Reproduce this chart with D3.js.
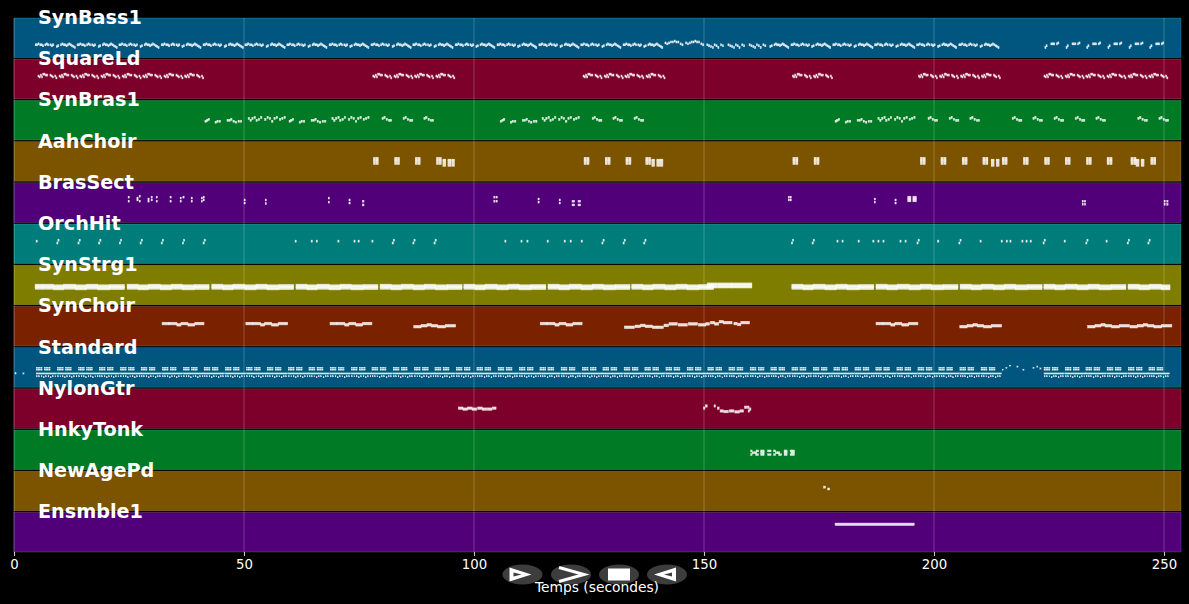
<!DOCTYPE html>
<html><head><meta charset="utf-8">
<script src="https://cdn.jsdelivr.net/npm/d3@7/dist/d3.min.js"></script>
<style>html,body{margin:0;padding:0;background:#000}svg{display:block}text{font-family:"DejaVu Sans",sans-serif;fill:#fff}</style>
</head><body><div id="chart"></div>
<script>
const trackNames = ["SynBass1","SquareLd","SynBras1","AahChoir","BrasSect","OrchHit","SynStrg1","SynChoir","Standard","NylonGtr","HnkyTonk","NewAgePd","Ensmble1"];
const trackColors = ["#01567f","#7c0029","#007a24","#7c5400","#52007a","#007d7a","#7f7d00","#7a2200","#01567f","#7c0029","#007a24","#7c5400","#52007a"];
const timeTicks = [0,50,100,150,200,250];
const timeMax = 253.7;

// Notes are [start seconds, duration seconds, MIDI pitch]; phrases are lists of start times.
const bassMotifA = [[0,.25,41],[.3,.25,41],[.6,.25,44],[1.0,.25,41],[1.3,.25,41],[1.6,.25,38],[2.1,.25,41],[2.4,.25,44],[2.7,.25,41],[3.2,.25,41],[3.5,.25,38],[3.8,.25,41]];
const bassMotifB = [[0,.25,35],[.3,.25,38],[.9,.25,41],[1.2,.25,44],[1.5,.25,41],[1.8,.25,41],[2.1,.25,38],[2.4,.25,41],[2.7,.25,44],[3.0,.25,41],[3.3,.25,38],[3.6,.25,35],[3.9,.25,32]];
const bassMotifC = [[0,.25,32],[.25,.25,38],[1.3,.25,44],[1.6,.25,44],[1.9,.25,44],[2.5,.25,44],[2.8,.25,47]];
const bassMotifRise = [[0,.25,47],[.4,.25,44],[.8,.25,47],[1.2,.25,50],[1.6,.25,50],[2.0,.25,53],[2.4,.25,50],[2.8,.25,50],[3.3,.25,44],[3.7,.25,41]];
const bassMotifDip = [[0,.25,41],[.4,.25,38],[.8,.25,35],[1.2,.25,32],[1.6,.25,41],[2,.25,38],[2.4,.25,32],[3,.25,41],[3.4,.25,38]];
const bassPhrasesA = [4.6,13.7,22.8,32,41.1,50.2,59.3,68.5,77.6,86.7,95.9,105,114.1,123.2,132.4,168.9,178,187.1,196.2,205.4];
const bassPhrasesB = [9.2,18.3,27.4,36.5,45.7,54.8,63.9,73,82.2,91.3,100.4,109.5,118.7,127.8,136.9,164.3,173.4,182.6,191.7,200.8,210];
const bassPhrasesC = [224.1,228.7,233.2,237.8,242.4,246.9];
const bassPhrasesRise = [141.5,146];
const bassPhrasesDip = [150.6,155.2,159.8];

const leadMotif = [[0,.24,73],[.26,.24,70],[.52,.24,76],[.78,.24,70],[1.04,.24,79],[1.3,.24,79],[1.6,.24,76],[1.9,.24,76],[2.6,.24,76],[2.86,.24,73],[3.12,.24,70],[3.65,.24,73],[3.9,.24,67]];
const leadPhrases = [5.2,9.8,14.3,18.9,23.5,28,32.6,37.1,78,82.6,87.1,91.7,123.7,128.3,132.8,137.4,169.2,173.8,196.6,201.2,205.8,210.3,223.9,228.5,233,237.6,242.2,246.7];

const brassMotifA = [[0,.3,60],[.35,.3,63],[.7,.3,66],[2.2,.3,57],[2.6,.3,60],[3.1,.3,60],[4.8,.3,63],[5.2,.3,63],[5.6,.3,66],[6.1,.3,60],[6.6,.3,57],[7.2,.3,60],[7.7,.3,60]];
const brassMotifB = [[0,.3,69],[.4,.3,63],[.8,.3,69],[1.3,.3,72],[1.7,.3,63],[2.2,.3,66],[2.7,.3,72],[3.6,.3,66],[4.1,.3,72],[4.6,.3,69],[5.1,.3,60],[5.6,.3,69],[6.1,.3,72],[6.8,.3,66],[7.3,.3,69],[7.8,.3,72]];
const brassMotifC = [[0,.3,69],[.4,.3,72],[.9,.3,66],[1.4,.3,63],[1.8,.3,63]];
const brassPhrasesA = [41.5,59.8,105.7,178.5];
const brassPhrasesB = [50.9,69.1,114.8,187.8];
const brassPhrasesC = [80,84.6,89.1,125.7,130.2,134.8,198.7,203.3,207.8,217,221.5,226.1,230.7,235.2,244.3,248.9];

const choirChord = [[0,.55,74],[.6,.55,74],[0,.55,68],[.6,.55,68],[0,.55,62],[.6,.55,62],[0,.55,56],[.6,.55,56]];
const choirChordLow = [[0,.7,68],[0,.7,62],[0,.7,56],[0,.7,50]];
const choirPhrases = [78.1,82.7,87.2,91.8,123.9,128.5,133,137.3,169.3,173.9,197,201.5,206.1,210.6,214.8,219.4,224,228.5,233.1,237.6,247.1,242.8];
const choirPhrasesLow = [93.2,94.3,95.1,138.6,139.7,140.4,212.4,213.5,243.9,245];

const sectNotes = [[24.8,.3,81],[24.8,.3,68],[26.7,.3,78],[26.7,.3,72],[27.2,.3,84],[27.2,.3,68],[29.1,.3,75],[29.1,.3,68],[29.8,.3,81],[29.8,.3,72],[30.9,.3,81],[30.9,.3,68],[33.9,.3,81],[33.9,.3,68],[36.1,.3,78],[36.1,.3,68],[36.7,.3,81],[38.5,.3,78],[38.5,.3,68],[40.7,.3,78],[40.7,.3,68],[41.1,.3,81],[41.1,.3,72],[50,.3,72],[50,.3,62],[54.6,.3,72],[54.6,.3,60],[68.3,.3,78],[68.3,.3,65],[72.8,.3,72],[72.8,.3,62],[75.7,.4,68],[75.7,.4,56],[104.3,.3,81],[104.3,.3,68],[104.8,.3,81],[104.8,.3,68],[113.9,.3,75],[113.9,.3,65],[118.5,.3,72],[118.5,.3,62],[121.3,.6,68],[121.3,.6,56],[122.6,.6,68],[122.6,.6,56],[168.3,.3,81],[168.3,.3,72],[168.7,.3,81],[168.7,.3,72],[187,.3,75],[187,.3,65],[191.5,.3,72],[191.5,.3,62],[194.3,.7,81],[194.3,.7,75],[194.3,.7,69],[195.4,.8,81],[195.4,.8,75],[195.4,.8,69],[232.2,.3,68],[232.2,.3,58],[232.7,.3,68],[232.7,.3,58],[250,.3,68],[250,.3,58],[250.6,.3,68],[250.6,.3,58]];

const hitSingles = [4.8,61.1,64.6,65.7,70.4,73.9,74.8,77.8,106.7,110.2,111.5,115.9,119.6,120.9,123.3,178.9,180,183.5,186.7,187.8,188.9,192.6,193.7,200.8,210,214.6,215.7,216.5,219.1,220,220.9,228.3,237.4];
const hitSlants = [9.3,13.9,18.4,22.9,27.4,32,36.6,41.1,82.2,86.7,91.3,127.8,132.4,136.9,169,173.5,196.3,205.4,223.7,233,242,246.5];

const strgMotif = [[0,2.4,58],[2.4,2.2,56],[4.6,2.6,58],[7.2,2.4,56],[9.6,2.4,58],[12,2.6,56],[14.6,3.2,57]];
const strgTail = [[0,2.4,58],[2.4,2.2,56],[4.6,2.6,58],[7.2,1.9,56]];
const strgPhrases = [6.2,24.6,43,61.3,79.6,97.8,116.1,134.3,169.1,187.4,205.7,223.9];
const strgTailPhrases = [242.2];
const strgExtra = [[4.6,1.6,58],[150.7,2.2,62],[153,3,62],[156,4.4,62]];
const strgChord = [5,0,-5];

const synChoirMotif = [[0,1.5,72],[1.5,1.7,72],[3.2,.9,68],[4.1,1.5,72],[5.6,1.5,68],[7.1,2,72]];
const synChoirLowMotif = [[0,1.6,62],[1.6,1.3,65],[2.9,.9,68],[3.8,1.4,65],[5.2,1.7,62],[6.9,2.2,65]];
const synChoirPhrases = [32.2,50.4,68.7,114.4,187.4];
const synChoirLowPhrases = [86.9,205.6,233.4,242.6];
const synChoirRise = [[132.7,2.2,60],[135,1.2,63],[136.2,1,66],[137.2,1.6,63],[138.8,1,60],[139.8,1.4,60],[141.3,1,66],[142.4,1.8,71],[144.4,2,68],[146.6,2,71],[148.8,1.6,68],[150.4,.8,71],[151.4,.9,75],[152.3,.9,71],[153.3,.9,78],[154.2,1.9,75],[156.5,.7,72],[157.3,.7,69],[158,1.9,75]];

const drumTopMotif = [[0,.3,62],[.35,.3,62],[.7,.3,62],[1.05,.3,62],[0,.3,56],[.35,.3,56],[.7,.3,56],[1.05,.3,56],[1.75,.3,62],[2.1,.3,62],[2.45,.3,62],[2.8,.3,62],[1.75,.3,56],[2.1,.3,56],[2.45,.3,56],[2.8,.3,56]];
const drumHatMotif = [[0,4.5,44]];
const drumLowMotif = [[.1,.15,35],[.6,.15,35],[1.1,.15,35],[1.6,.15,32],[2.1,.15,35],[2.6,.15,35],[3.1,.15,32],[3.6,.15,35],[4.1,.15,35]];
const drumPhrases = [4.8,9.4,14,18.5,23.1,27.6,32.2,36.8,41.3,45.9,50.5,55,59.6,64.1,68.7,73.3,77.8,82.4,87,91.5,96.1,100.6,105.2,109.8,114.3,118.9,123.5,128,132.6,137.1,141.7,146.3,150.8,155.4,160,164.5,169.1,173.7,178.2,182.8,187.3,191.9,196.5,201,205.6,210.2,223.9,228.5,233,237.6,242.2,246.7];
const drumLoose = [[.2,.3,44],[1.9,.3,44],[214.8,.3,56],[215.6,.3,62],[216.4,.3,69],[218,.3,66],[219.3,.3,56],[221.5,.3,62],[222.3,.3,66],[223,.3,60]];

const nylonNotes = [[96.6,1,65],[97.6,1,62],[98.6,1,65],[99.6,1,62],[100.8,1,65],[101.8,1,62],[102.9,1,62],[104,.8,65],[149.9,.3,65],[150.3,.4,72],[152.2,.3,72],[152.9,.4,65],[153.5,.7,56],[154.3,1,54],[155.5,1,56],[156.7,1,53],[157.8,.8,56],[158.8,.5,68],[159.4,.4,68],[159.9,.3,62],[159.6,.3,56]];
const tonkNotes = [[160.1,.4,60],[160.1,.4,48],[160.4,.5,54],[160.9,.6,54],[161.2,.7,48],[161.3,.6,60],[162.3,.8,60],[162.3,.8,48],[162.3,.8,54],[163.8,.8,60],[163.8,.8,48],[165.1,.5,60],[165.1,.5,48],[165.5,.6,54],[166,.5,54],[166.2,.7,48],[167.4,.7,60],[167.4,.7,48],[167.4,.7,54],[168.7,1,60],[168.7,1,48],[168.9,.8,54]];
const padNotes = [[176,.4,76],[176.9,.4,70]];
const ensembleNotes = [[178.5,17.2,89]];

const motif = (starts, notes) => starts.flatMap(s => notes.map(([t, d, p]) => [s + t, d, p]));
const chord = (notes, shifts) => notes.flatMap(([t, d, p]) => shifts.map(k => [t, d, p + k]));
const trackNotes = [
  [...motif(bassPhrasesA,bassMotifA),...motif(bassPhrasesB,bassMotifB),...motif(bassPhrasesC,bassMotifC),...motif(bassPhrasesRise,bassMotifRise),...motif(bassPhrasesDip,bassMotifDip)],
  motif(leadPhrases,leadMotif),
  [...motif(brassPhrasesA,brassMotifA),...motif(brassPhrasesB,brassMotifB),...motif(brassPhrasesC,brassMotifC)],
  [...motif(choirPhrases,choirChord),...motif(choirPhrasesLow,choirChordLow)],
  sectNotes,
  [...hitSingles.map(t=>[t,.25,72]),...hitSlants.flatMap(t=>[[t,.25,66],[t+.25,.25,75]])],
  chord([...motif(strgPhrases,strgMotif),...motif(strgTailPhrases,strgTail),...strgExtra],strgChord),
  [...motif(synChoirPhrases,synChoirMotif),...motif(synChoirLowPhrases,synChoirLowMotif),...synChoirRise],
  [...motif(drumPhrases,drumTopMotif),...motif(drumPhrases,drumHatMotif),...motif(drumPhrases,drumLowMotif),...drumLoose],
  nylonNotes,
  tonkNotes,
  padNotes,
  ensembleNotes
];
const noteHeights = {Ensmble1:2.4, SynChoir:2.6, NylonGtr:2.4, Standard:1.4};
const noteOutlines = {AahChoir:.15, Standard:.2, HnkyTonk:.3, BrasSect:.4};

const W = 1189, H = 604;
const svg = d3.select("#chart").append("svg").attr("width",W).attr("height",H).style("background","#000");
const x = d3.scaleLinear().domain([0,timeMax]).range([14,1181]);
const band = d3.scaleBand().domain(trackNames).range([18,552]).paddingInner(0.04).paddingOuter(0);
const pitch = name => d3.scaleLinear().domain([0,127]).range([band(name)+band.bandwidth(),band(name)]);

svg.append("g").selectAll("rect").data(trackNames).join("rect")
  .attr("x",x(0)).attr("width",x(timeMax)-x(0))
  .attr("y",d=>band(d)).attr("height",band.bandwidth())
  .attr("fill",(d,i)=>trackColors[i])
  .attr("stroke","#fff").attr("stroke-opacity",.25).attr("stroke-width",.6);

svg.append("g").selectAll("line").data(timeTicks).join("line")
  .attr("x1",d=>x(d)).attr("x2",d=>x(d)).attr("y1",18).attr("y2",552)
  .attr("stroke","#fff").attr("stroke-opacity",.28).attr("stroke-width",.8);

trackNames.forEach((name,i)=>{
  const y = pitch(name);
  const h = noteHeights[name] ?? 2;
  const w = noteOutlines[name] ?? .6;
  svg.append("g").selectAll("rect").data(trackNotes[i]).join("rect")
    .attr("x",d=>x(d[0])).attr("width",d=>Math.max(.9,x(d[0]+d[1])-x(d[0])))
    .attr("y",d=>y(d[2])-h/2)
    .attr("height",h)
    .attr("fill","#fff").attr("fill-opacity",.85)
    .attr("stroke","#fff").attr("stroke-opacity",.7).attr("stroke-width",w);
});

svg.append("g").selectAll("text").data(trackNames).join("text")
  .attr("x",38).attr("y",d=>band(d)+6).text(d=>d)
  .style("font-weight","bold").style("font-size","19.2px");

const axis = svg.append("g").attr("transform","translate(0,552)")
  .call(d3.axisBottom(x).tickValues(timeTicks).tickSize(4).tickPadding(4).tickFormat(d3.format("d")));
axis.select(".domain").remove();
axis.selectAll("line").attr("stroke","#fff").attr("stroke-width",.8);
axis.selectAll("text").style("font-size","13.3px").style("font-family",'"DejaVu Sans"').attr("fill","#fff");

const btnCenters = [522.5,571,619,667];
const btnGlyphs = [
  g=>g.append("path").attr("d","M-13,-7L9,0L-13,7Z M-9,-2L-9,2L-1,0Z").attr("fill","#fff").attr("fill-rule","evenodd"),
  g=>g.append("path").attr("d","M-12,-7L13,0L-12,7").attr("fill","none").attr("stroke","#fff").attr("stroke-width",3),
  g=>g.append("rect").attr("x",-11).attr("y",-6).attr("width",22).attr("height",12).attr("fill","#fff"),
  g=>g.append("path").attr("d","M9,-7L-13,0L9,7Z M5,-2L5,2L-3,0Z").attr("fill","#fff").attr("fill-rule","evenodd")
];
btnCenters.forEach((cx,i)=>{
  const g = svg.append("g").attr("transform",`translate(${cx},574.5)`);
  g.append("ellipse").attr("rx",20).attr("ry",10).attr("fill","#3d3d3d");
  btnGlyphs[i](g);
});
svg.append("text").attr("x",597).attr("y",592).attr("text-anchor","middle").style("font-size","13.8px").text("Temps (secondes)");
</script></body></html>
